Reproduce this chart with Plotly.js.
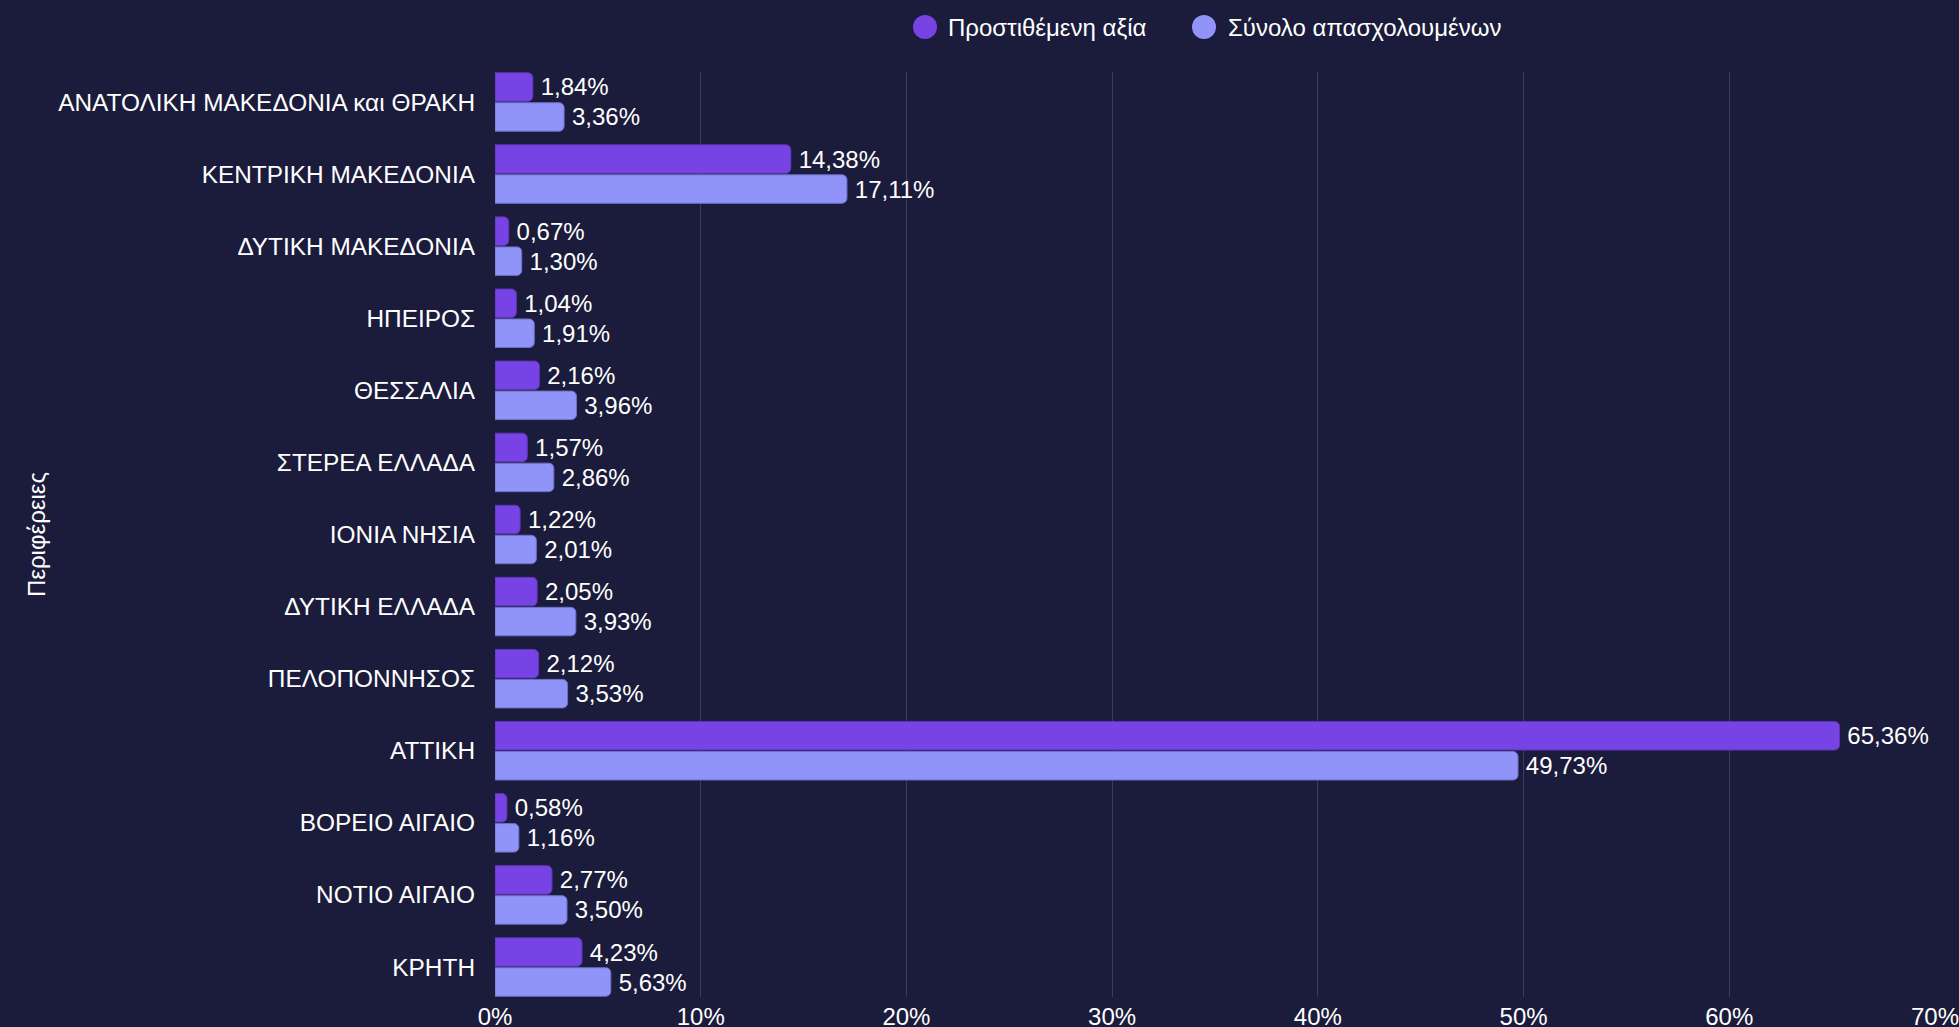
<!DOCTYPE html>
<html>
<head>
<meta charset="utf-8">
<script src="https://cdn.plot.ly/plotly-3.0.1.min.js"></script>
<style>
html,body{margin:0;padding:0;background:#1b1c3b;}
#chart{width:1959px;height:1027px;}
</style>
</head>
<body>
<div id="chart"></div>
<script>
const regions = [
  "ΑΝΑΤΟΛΙΚΗ ΜΑΚΕΔΟΝΙΑ και ΘΡΑΚΗ",
  "ΚΕΝΤΡΙΚΗ ΜΑΚΕΔΟΝΙΑ",
  "ΔΥΤΙΚΗ ΜΑΚΕΔΟΝΙΑ",
  "ΗΠΕΙΡΟΣ",
  "ΘΕΣΣΑΛΙΑ",
  "ΣΤΕΡΕΑ ΕΛΛΑΔΑ",
  "ΙΟΝΙΑ ΝΗΣΙΑ",
  "ΔΥΤΙΚΗ ΕΛΛΑΔΑ",
  "ΠΕΛΟΠΟΝΝΗΣΟΣ",
  "ΑΤΤΙΚΗ",
  "ΒΟΡΕΙΟ ΑΙΓΑΙΟ",
  "ΝΟΤΙΟ ΑΙΓΑΙΟ",
  "ΚΡΗΤΗ"
];
const addedValue = [1.84, 14.38, 0.67, 1.04, 2.16, 1.57, 1.22, 2.05, 2.12, 65.36, 0.58, 2.77, 4.23];
const employment = [3.36, 17.11, 1.30, 1.91, 3.96, 2.86, 2.01, 3.93, 3.53, 49.73, 1.16, 3.50, 5.63];
const seriesNames = ["Προστιθέμενη αξία", "Σύνολο απασχολουμένων"];
const xTickValues = [0, 10, 20, 30, 40, 50, 60, 70];
const yAxisTitle = "Περιφέρειες";

const colors = ["#7843e4", "#9093f8"];
const edge = ["#5f35b8", "#6d70c8"];
const FONT = "Liberation Sans, Arial, sans-serif";

function barTrace(vals, i) {
  return {
    type: "bar",
    orientation: "h",
    name: seriesNames[i],
    y: regions,
    x: vals,
    marker: {color: colors[i], cornerradius: 5, line: {color: edge[i], width: 1}},
    texttemplate: "\u2009%{x:.2f}%",
    textposition: "outside",
    constraintext: "none",
    cliponaxis: false,
    textfont: {color: "#ffffff", size: 24, family: FONT},
    showlegend: false,
    hoverinfo: "skip"
  };
}

const data = [barTrace(addedValue, 0), barTrace(employment, 1)];

const L = 495, R = 24, T = 72, B = 30, W = 1959, H = 1027;
const pw = W - L - R, ph = H - T - B;
const px2x = p => (p - L) / pw;
const py2y = p => (H - B - p) / ph;

const legendCircleX = [925, 1204];
const legendTextX = [946, 1226];
const legendY = 27;

const shapes = [], annotations = [];
for (let i = 0; i < 2; i++) {
  shapes.push({
    type: "circle", xref: "paper", yref: "paper",
    xsizemode: "pixel", ysizemode: "pixel",
    xanchor: px2x(legendCircleX[i]), yanchor: py2y(legendY),
    x0: -12, x1: 12, y0: -12, y1: 12,
    fillcolor: colors[i], line: {width: 0}
  });
  annotations.push({
    xref: "paper", yref: "paper",
    x: px2x(legendTextX[i]), y: py2y(legendY),
    xanchor: "left", yanchor: "middle",
    text: seriesNames[i], showarrow: false,
    font: {color: "#ffffff", size: 24, family: FONT}
  });
}

const layout = {
  width: W, height: H,
  paper_bgcolor: "#1b1c3b",
  plot_bgcolor: "#1b1c3b",
  separators: ",.",
  margin: {l: L, r: R, t: T, b: B, pad: 0},
  barmode: "group",
  bargap: 0.168,
  bargroupgap: 0.05,
  showlegend: false,
  font: {family: FONT, color: "#ffffff", size: 24},
  xaxis: {
    range: [0, 70],
    tickvals: xTickValues,
    ticktext: xTickValues.map(v => v + "%"),
    showgrid: true,
    gridcolor: "#3b3d5a",
    gridwidth: 1,
    zeroline: false,
    showline: false,
    ticks: "",
    ticklabelstandoff: 3,
    ticklabeloverflow: "allow",
    tickfont: {color: "#ffffff", size: 24, family: FONT},
    fixedrange: true
  },
  yaxis: {
    type: "category",
    range: [12.416, -0.416],
    showgrid: false,
    zeroline: false,
    showline: false,
    ticks: "",
    ticklabelstandoff: 19,
    tickfont: {color: "#ffffff", size: 24.4, family: FONT},
    title: {text: yAxisTitle, font: {color: "#ffffff", size: 24, family: FONT}, standoff: 5},
    automargin: false,
    fixedrange: true
  },
  shapes: shapes,
  annotations: annotations
};

Plotly.newPlot("chart", data, layout, {displayModeBar: false, staticPlot: true});
</script>
</body>
</html>
